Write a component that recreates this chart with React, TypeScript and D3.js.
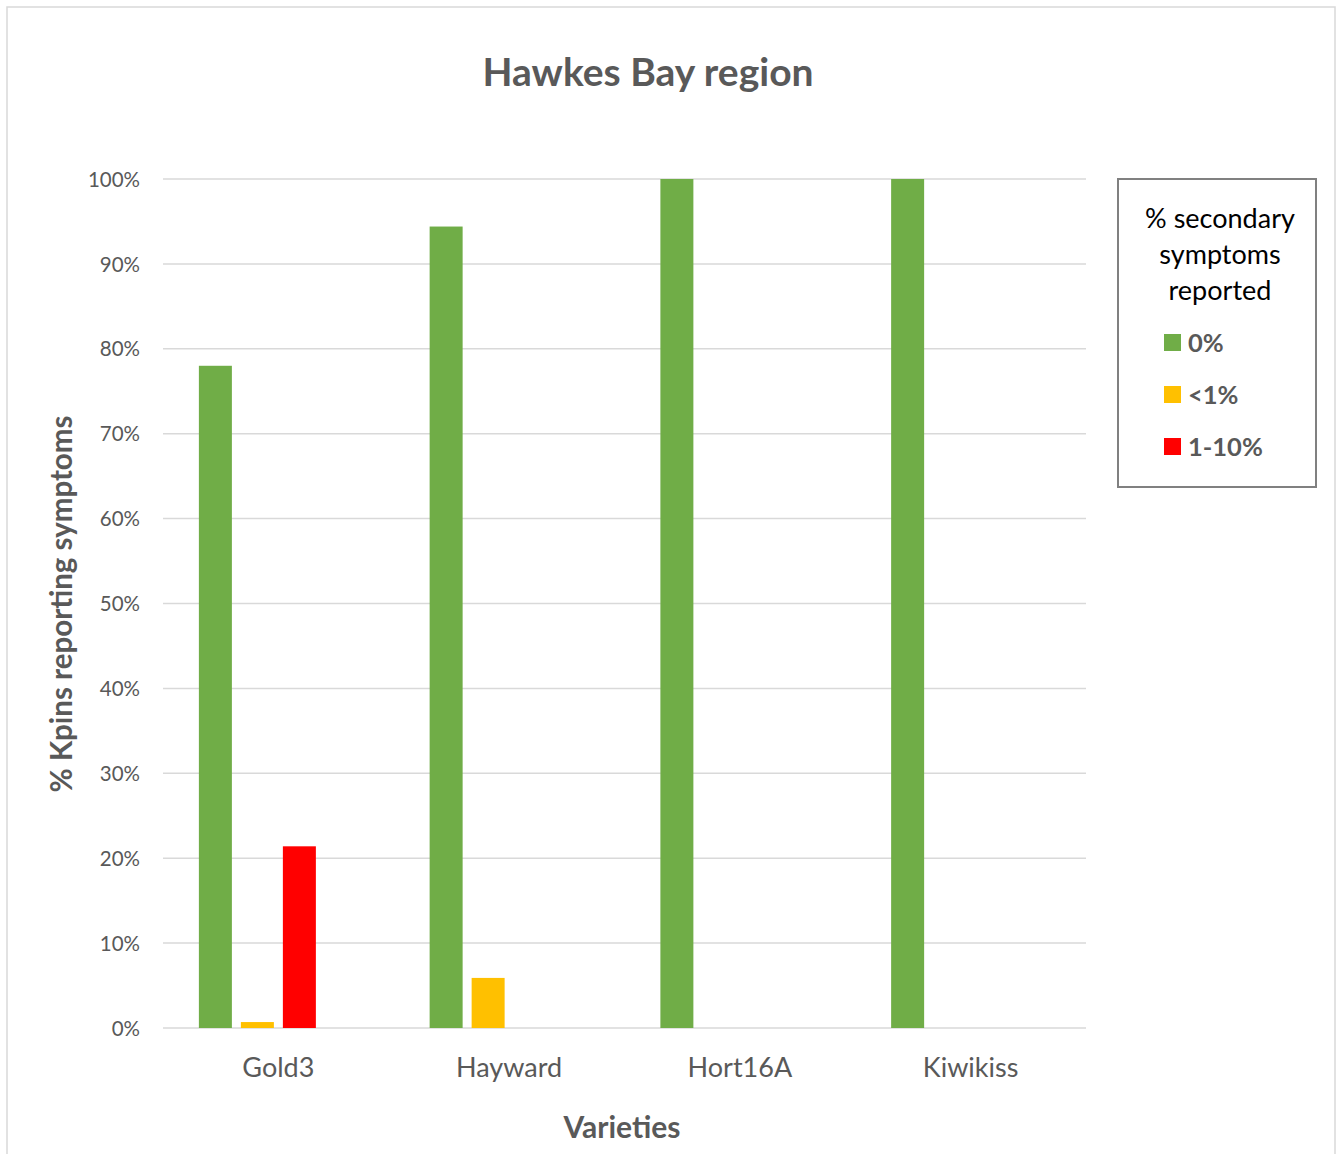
import React from "react";
import * as d3 from "d3";

const varieties = ["Gold3", "Hayward", "Hort16A", "Kiwikiss"];
const seriesNames = ["0%", "<1%", "1-10%", ">10%"];
const seriesColors = ["#70AD47", "#FFC000", "#FF0000", "#4472C4"];
const legendSeries = ["0%", "<1%", "1-10%"];
// % of Kpins per variety, one list per symptom class
const pct0 = [0.78, 0.944, 1.0, 1.0];
const pctUnder1 = [0.007, 0.059, 0, 0];
const pct1to10 = [0.214, 0, 0, 0];
const pctOver10 = [0, 0, 0, 0];
const yTicks = [0, 0.1, 0.2, 0.3, 0.4, 0.5, 0.6, 0.7, 0.8, 0.9, 1.0];

const seriesValues = [pct0, pctUnder1, pct1to10, pctOver10];

const W = 1336;
const H = 1154;
const FONT = "Lato, 'Open Sans', sans-serif";
const TEXT = "#595959";

const App = () => {
  const left = 163;
  const right = 1086;
  const top = 179;
  const bottom = 1028;

  const x = d3
    .scaleBand()
    .domain(varieties)
    .range([left, right])
    .paddingInner(0.311)
    .paddingOuter(0.1555);
  const xs = d3
    .scaleBand()
    .domain(seriesNames)
    .range([0, x.bandwidth()])
    .paddingInner(9 / 42);
  const y = d3.scaleLinear().domain([0, 1]).range([bottom, top]);
  const fmt = d3.format(".0%");

  return (
    <svg
      width={W}
      height={H}
      style={{ position: "absolute", left: 0, top: 0, background: "#fff" }}
      fontFamily={FONT}
    >
      <rect x={7} y={7} width={1328} height={1160} fill="#fff" stroke="#d9d9d9" strokeWidth={1.5} />
      <text x={648} y={76} textAnchor="middle" dominantBaseline="middle" fontSize={39} fontWeight="bold" fill={TEXT}>
        Hawkes Bay region
      </text>

      {yTicks.map((t) => (
        <g key={t}>
          <line x1={left} x2={right} y1={y(t)} y2={y(t)} stroke="#d9d9d9" strokeWidth={1.5} />
          <text x={140} y={y(t) + 2.5} textAnchor="end" dominantBaseline="middle" fontSize={20.5} fill={TEXT}>
            {fmt(t)}
          </text>
        </g>
      ))}

      {seriesNames.map((s, si) =>
        varieties.map((v, vi) => {
          const val = seriesValues[si][vi];
          if (!val) return null;
          return (
            <rect
              key={s + v}
              x={x(v)! + xs(s)!}
              y={y(val)}
              width={xs.bandwidth()}
              height={y(0) - y(val)}
              fill={seriesColors[si]}
            />
          );
        })
      )}

      {varieties.map((v) => (
        <text key={v} x={x(v)! + x.bandwidth() / 2} y={1070} textAnchor="middle" dominantBaseline="middle" fontSize={27} fill={TEXT}>
          {v}
        </text>
      ))}

      <text x={622} y={1130} textAnchor="middle" dominantBaseline="middle" fontSize={30} fontWeight="bold" fill={TEXT}>
        Varieties
      </text>
      <text
        transform={`translate(64, 604) rotate(-90)`}
        textAnchor="middle"
        dominantBaseline="middle"
        fontSize={29.5}
        fontWeight="bold"
        fill={TEXT}
      >
        % Kpins reporting symptoms
      </text>

      <rect x={1118} y={179} width={198} height={308} fill="#fff" stroke="#808080" strokeWidth={2} />
      {["% secondary", "symptoms", "reported"].map((l, i) => (
        <text key={l} x={1220} y={221 + i * 36} textAnchor="middle" dominantBaseline="middle" fontSize={27} fill="#000">
          {l}
        </text>
      ))}
      {legendSeries.map((s, i) => (
        <g key={s}>
          <rect x={1164} y={334 + i * 52} width={17} height={17} fill={seriesColors[i]} />
          <text x={1188} y={345 + i * 52} dominantBaseline="middle" fontSize={25.5} fontWeight="bold" fill={TEXT}>
            {s}
          </text>
        </g>
      ))}
    </svg>
  );
};

export default App;
